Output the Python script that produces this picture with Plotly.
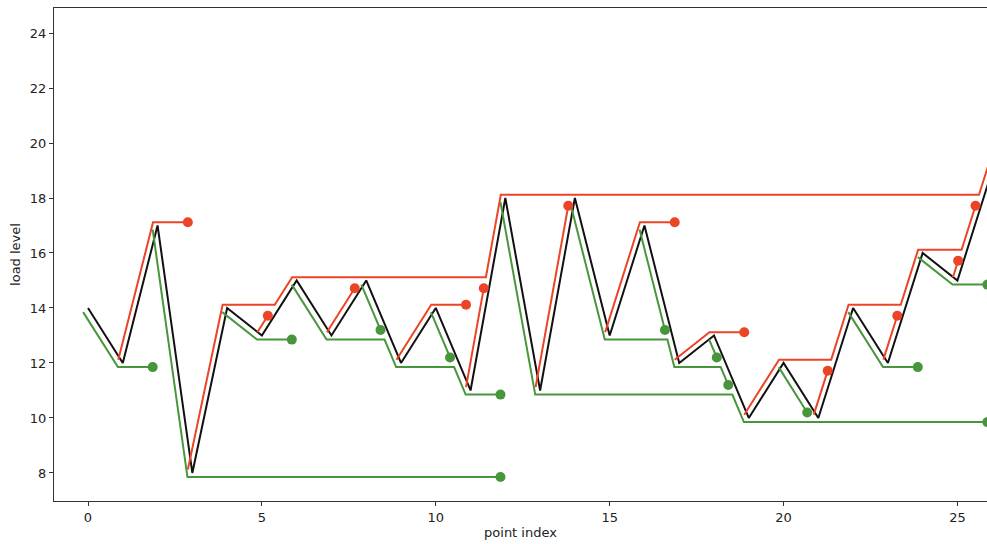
import plotly.graph_objects as go

# Load history, one value per point index
load = [14, 12, 17, 8, 14, 13, 15, 13, 15, 12, 14, 11, 18, 11, 18,
        13, 17, 12, 13, 10, 12, 10, 14, 12, 16, 15, 19]
index = list(range(len(load)))

# Rising flows (from valleys): vertices and whether the flow ends in a dot
rise_x = [
    [1, 2, 3],
    [3, 4, 5.5, 6, 11.571, 12, 25.75, 26],
    [5, 5.3],
    [7, 7.8],
    [9, 10, 11],
    [11, 11.51],
    [13, 13.94],
    [15, 16, 17],
    [17, 18, 19],
    [19, 20, 21.5, 22, 23.5, 24, 25.25, 25.65],
    [21, 21.4],
    [23, 23.4],
    [25, 25.15],
]
rise_y = [
    [12, 17, 17],
    [8, 14, 14, 15, 15, 18, 18, 19],
    [13, 13.6],
    [13, 14.6],
    [12, 14, 14],
    [11, 14.6],
    [11, 17.6],
    [13, 17, 17],
    [12, 13, 13],
    [10, 12, 12, 14, 14, 16, 16, 17.6],
    [10, 11.6],
    [12, 13.6],
    [15, 15.6],
]
rise_dot = [True, False, True, True, True, True, True, True, True, True, True, True, True]

# Falling flows (from peaks)
fall_x = [
    [0, 1, 2],
    [2, 3, 12],
    [4, 5, 6],
    [6, 7, 8.667, 9, 10.667, 11, 12],
    [8, 8.55],
    [10, 10.55],
    [12, 13, 18.667, 19, 26],
    [14, 15, 16.8, 17, 18.333, 18.55],
    [16, 16.73],
    [18, 18.22],
    [20, 20.82],
    [22, 23, 24],
    [24, 25, 26],
]
fall_y = [
    [14, 12, 12],
    [17, 8, 8],
    [14, 13, 13],
    [15, 13, 13, 12, 12, 11, 11],
    [15, 13.35],
    [14, 12.35],
    [18, 11, 11, 10, 10],
    [18, 13, 13, 12, 12, 11.35],
    [17, 13.35],
    [13, 12.35],
    [12, 10.35],
    [14, 12, 12],
    [16, 15, 15],
]
fall_dot = [True] * len(fall_x)

x_ticks = [0, 5, 10, 15, 20, 25]
y_ticks = [8, 10, 12, 14, 16, 18, 20, 22, 24]

RED = "#EC4427"
GREEN = "#48963C"
RED_SHIFT = (-0.13, 0.12)
GREEN_SHIFT = (-0.14, -0.15)


def joined(xs_list, ys_list, shift):
    xs, ys = [], []
    for px, py in zip(xs_list, ys_list):
        xs += [v + shift[0] for v in px] + [None]
        ys += [v + shift[1] for v in py] + [None]
    return xs, ys


def ends(xs_list, ys_list, flags, shift):
    ex = [px[-1] + shift[0] for px, f in zip(xs_list, flags) if f]
    ey = [py[-1] + shift[1] for py, f in zip(ys_list, flags) if f]
    return ex, ey


fig = go.Figure()
fig.add_trace(go.Scatter(x=index, y=load, mode="lines",
                         line=dict(color="#111111", width=2), showlegend=False))

rx, ry = joined(rise_x, rise_y, RED_SHIFT)
fig.add_trace(go.Scatter(x=rx, y=ry, mode="lines",
                         line=dict(color=RED, width=2), showlegend=False))
gx, gy = joined(fall_x, fall_y, GREEN_SHIFT)
fig.add_trace(go.Scatter(x=gx, y=gy, mode="lines",
                         line=dict(color=GREEN, width=2), showlegend=False))

rdx, rdy = ends(rise_x, rise_y, rise_dot, RED_SHIFT)
fig.add_trace(go.Scatter(x=rdx, y=rdy, mode="markers",
                         marker=dict(color=RED, size=10), showlegend=False))
gdx, gdy = ends(fall_x, fall_y, fall_dot, GREEN_SHIFT)
fig.add_trace(go.Scatter(x=gdx, y=gdy, mode="markers",
                         marker=dict(color=GREEN, size=10), showlegend=False))

axis_font = dict(family="DejaVu Sans", size=13, color="#222222")
fig.update_layout(
    width=987, height=544,
    margin=dict(l=54, r=0, t=8, b=43),
    paper_bgcolor="white", plot_bgcolor="white",
    font=axis_font,
    xaxis=dict(range=[-0.978, 25.85], tickvals=x_ticks, ticks="outside", ticklen=4,
               tickcolor="#333333", showline=True, linecolor="#333333", linewidth=1,
               mirror=True, showgrid=False, zeroline=False,
               title=dict(text="point index", font=axis_font, standoff=4)),
    yaxis=dict(range=[6.98, 24.91], tickvals=y_ticks, ticks="outside", ticklen=4,
               tickcolor="#333333", showline=True, linecolor="#333333", linewidth=1,
               showgrid=False, zeroline=False,
               title=dict(text="load level", font=axis_font, standoff=6)),
)

fig.write_html("out.html")
